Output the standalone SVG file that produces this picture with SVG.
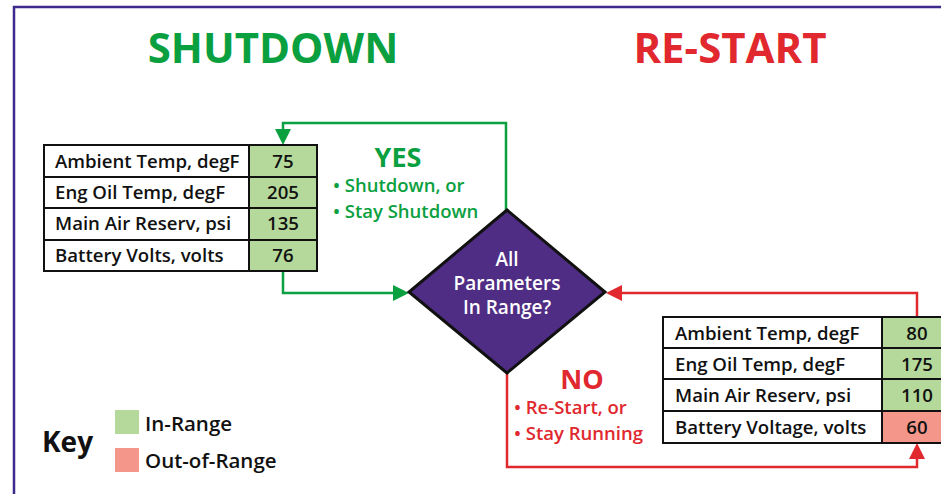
<svg xmlns="http://www.w3.org/2000/svg" width="941" height="494" viewBox="0 0 941 494">
<style>
.t{font-family:"Open Sans","Liberation Sans",sans-serif;font-weight:600;font-size:18.6px;fill:#111}
.k{font-family:"Open Sans","Liberation Sans",sans-serif;font-weight:600;font-size:20.5px;fill:#111}
.c{text-anchor:middle}
.grid{fill:none;stroke:#111;stroke-width:2}
.in{fill:#b5d99a}
.out{fill:#f4978a}
.g{fill:#0aa040}
.r{fill:#e0282e}
.gs{stroke:#0aa040;stroke-width:2.5;fill:none}
.rs{stroke:#e0282e;stroke-width:2.5;fill:none}
.h{font-family:"Open Sans","Liberation Sans",sans-serif;font-weight:700;font-size:42px}
.s{font-family:"Open Sans","Liberation Sans",sans-serif;font-weight:700;font-size:27px}
.b{font-family:"Open Sans","Liberation Sans",sans-serif;font-weight:600;font-size:18.5px}
</style>
<rect width="941" height="494" fill="#fff"/>
<path d="M14,494 L14,7 L941,7" fill="none" stroke="#3d2a8c" stroke-width="2.5"/>
<g id="titles">
<text x="273" y="63" text-anchor="middle" class="h g">SHUTDOWN</text>
<text x="730" y="63" text-anchor="middle" class="h r">RE-START</text>
</g>
<g id="connectors">
<path class="gs" d="M506,210 L506,123 L283,123 L283,137"/>
<path d="M275,129 L291,129 L283,145 z" fill="#0aa040"/>
<path class="gs" d="M283,271 L283,293 L396,293"/>
<path d="M393,285 L393,301 L409,293 z" fill="#0aa040"/>
<path class="rs" d="M917,317 L917,293 L620,293"/>
<path d="M622,285 L622,301 L606,293 z" fill="#e0282e"/>
<path class="rs" d="M507,372 L507,467 L917,467 L917,456"/>
<path d="M909,459 L925,459 L917,443 z" fill="#e0282e"/>
</g>
<g id="left-table">
<rect class="in" x="249" y="145" width="68" height="126"/>
<rect class="grid" x="44" y="145" width="273" height="126"/>
<path class="grid" d="M249,145 V271 M44,177 H317 M44,208 H317 M44,240 H317"/>
<text class="t" x="55" y="168">Ambient Temp, degF</text>
<text class="t" x="55" y="199">Eng Oil Temp, degF</text>
<text class="t" x="55" y="230">Main Air Reserv, psi</text>
<text class="t" x="55" y="262">Battery Volts, volts</text>
<text class="t c" x="283" y="168">75</text>
<text class="t c" x="283" y="199">205</text>
<text class="t c" x="283" y="230">135</text>
<text class="t c" x="283" y="262">76</text>
</g>
<g id="yes-label">
<text x="398" y="167" text-anchor="middle" class="s g">YES</text>
<text x="333" y="192" class="b g">• Shutdown, or</text>
<text x="333" y="218" class="b g">• Stay Shutdown</text>
</g>
<g id="decision">
<polygon points="507,210 605,292 507,373 409,292" fill="#4f2d84" stroke="#111" stroke-width="3"/>
<text x="507" y="266" text-anchor="middle" class="b" fill="#fff" style="font-size:19px">All</text>
<text x="507" y="290" text-anchor="middle" class="b" fill="#fff" style="font-size:19px">Parameters</text>
<text x="507" y="314" text-anchor="middle" class="b" fill="#fff" style="font-size:19px">In Range?</text>
</g>
<g id="no-label">
<text x="582" y="389" text-anchor="middle" class="s r">NO</text>
<text x="514" y="414" class="b r">• Re-Start, or</text>
<text x="514" y="440" class="b r">• Stay Running</text>
</g>
<g id="right-table">
<rect class="in" x="882" y="317" width="70" height="94"/>
<rect class="out" x="882" y="411" width="70" height="32"/>
<rect class="grid" x="663" y="317" width="289" height="126"/>
<path class="grid" d="M882,317 V443 M663,348 H952 M663,379 H952 M663,411 H952"/>
<text class="t" x="675" y="340">Ambient Temp, degF</text>
<text class="t" x="675" y="371">Eng Oil Temp, degF</text>
<text class="t" x="675" y="402">Main Air Reserv, psi</text>
<text class="t" x="675" y="434">Battery Voltage, volts</text>
<text class="t c" x="917" y="340">80</text>
<text class="t c" x="917" y="371">175</text>
<text class="t c" x="917" y="402">110</text>
<text class="t c" x="917" y="434">60</text>
</g>
<g id="key">
<text x="42" y="452" class="s" fill="#111" style="font-size:28px">Key</text>
<rect class="in" x="115" y="410" width="24" height="24"/>
<rect class="out" x="115" y="448" width="24" height="24"/>
<text class="k" x="145" y="431">In-Range</text>
<text class="k" x="145" y="468">Out-of-Range</text>
</g>
</svg>
